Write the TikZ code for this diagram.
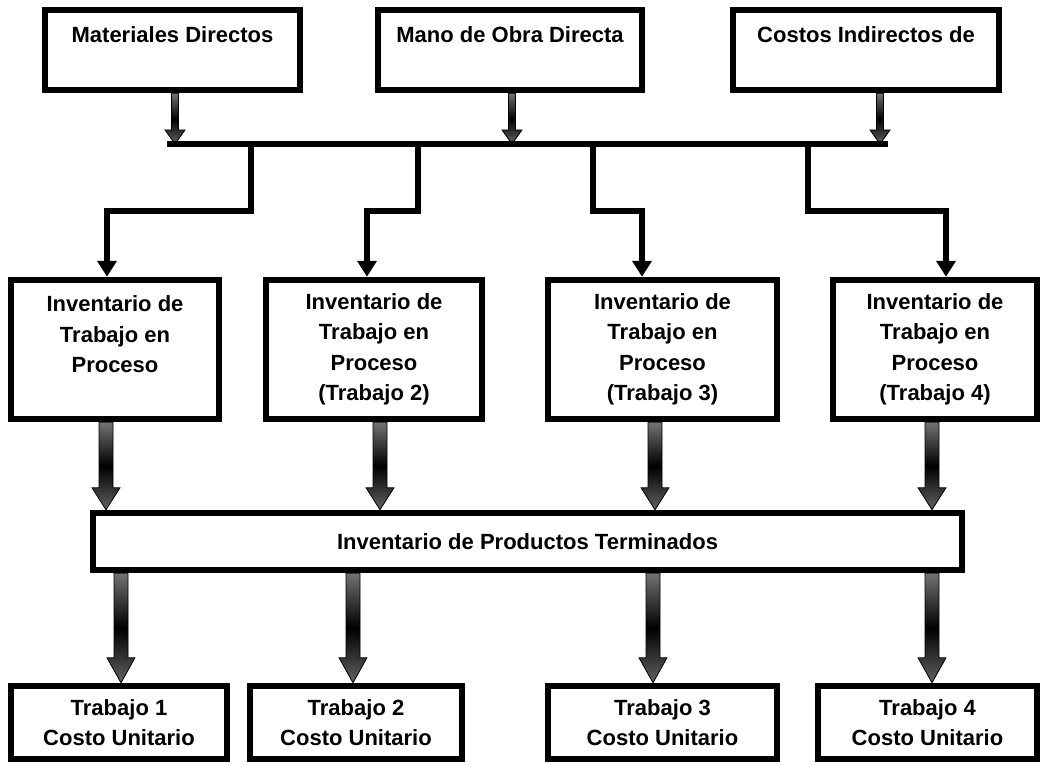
\documentclass[tikz,border=0pt]{standalone}
\usepackage{fontspec}
\setmainfont{Liberation Sans}
\usetikzlibrary{arrows.meta,calc,backgrounds}

% flecha gruesa: x, desde, hasta, medio cuerpo, media punta, largo punta
\newcommand{\flecha}[6]{%
  \path[flecha] let \p1 = (#1,0 |- #2), \p2 = (#1,0 |- #3) in
    (\x1-#4pt,\y1) -- (\x1+#4pt,\y1) -- (\x1+#4pt,\y2+#6pt)
    -- (\x1+#5pt,\y2+#6pt) -- (\x1,\y2) -- (\x1-#5pt,\y2+#6pt)
    -- (\x1-#4pt,\y2+#6pt) -- cycle;}

\begin{document}
\begin{tikzpicture}[x=1pt, y=-1pt, line join=miter]
        \tikzstyle{caja}=[draw, line width=6.5pt, fill=white, align=center, inner sep=0pt, font=\fontsize{22}{30.5}\selectfont\bfseries]
        \tikzstyle{conector}=[line width=5.5pt, -{Triangle[length=16pt,width=19pt]}]
        \tikzstyle{barra}=[line width=6pt]
        \tikzstyle{flecha}=[draw=black, line width=0.8pt, top color=black!55, bottom color=black!62, middle color=black]

        \useasboundingbox (0,0) rectangle (1047,765);

        % elementos del costo
        \node[caja, minimum width=255pt, minimum height=80pt] (mat) at (172.5,50) {Materiales Directos\\\mbox{}};
        \node[caja, minimum width=264pt, minimum height=80pt] (mano) at (510,50) {Mano de Obra Directa\\\mbox{}};
        \node[caja, minimum width=266pt, minimum height=80pt] (cif) at (866,50) {Costos Indirectos de\\\mbox{}};

        \coordinate (barL) at (167,144);
        \coordinate (barR) at (888,144);
        \coordinate (b1) at (251,144);
        \coordinate (b2) at (418,144);
        \coordinate (b3) at (593,144);
        \coordinate (b4) at (808,144);

        % inventarios de trabajo en proceso
        \node[caja, minimum width=208pt, minimum height=139pt] (inv1) at (115,349.5) {Inventario de\\Trabajo en\\Proceso\\\mbox{}};
        \node[caja, minimum width=216pt, minimum height=139pt] (inv2) at (374,349.5) {Inventario de\\Trabajo en\\Proceso\\(Trabajo 2)};
        \node[caja, minimum width=229pt, minimum height=139pt] (inv3) at (662.5,349.5) {Inventario de\\Trabajo en\\Proceso\\(Trabajo 3)};
        \node[caja, minimum width=204pt, minimum height=139pt] (inv4) at (935,349.5) {Inventario de\\Trabajo en\\Proceso\\(Trabajo 4)};

        \node[caja, minimum width=869pt, minimum height=57pt] (prod) at (527.5,541.5) {Inventario de Productos Terminados};

        % costo unitario
        \node[caja, minimum width=216pt, minimum height=73pt] (cu1) at (119,722.5) {Trabajo 1\\Costo Unitario};
        \node[caja, minimum width=212pt, minimum height=73pt] (cu2) at (356,722.5) {Trabajo 2\\Costo Unitario};
        \node[caja, minimum width=229pt, minimum height=73pt] (cu3) at (662.5,722.5) {Trabajo 3\\Costo Unitario};
        \node[caja, minimum width=219pt, minimum height=73pt] (cu4) at (927.5,722.5) {Trabajo 4\\Costo Unitario};

        \begin{scope}[on background layer]
            \flecha{175}{mat.south}{barL}{3.5}{10}{14}
            \flecha{512}{mano.south}{barL}{3.5}{10}{14}
            \flecha{880}{cif.south}{barL}{3.5}{10}{14}

            \draw[conector] (b1) -- ++(0,67) -| (inv1.north -| 107,0);
            \draw[conector] (b2) -- ++(0,67) -| (inv2.north -| 367,0);
            \draw[conector] (b3) -- ++(0,67) -| (inv3.north -| 642,0);
            \draw[conector] (b4) -- ++(0,67) -| (inv4.north -| 946,0);

            \flecha{106}{inv1.south}{prod.north}{7}{14}{22}
            \flecha{380}{inv2.south}{prod.north}{7}{14}{22}
            \flecha{655}{inv3.south}{prod.north}{7}{14}{22}
            \flecha{932}{inv4.south}{prod.north}{7}{14}{22}

            \flecha{121}{prod.south}{cu1.north}{7}{14}{25}
            \flecha{353}{prod.south}{cu2.north}{7}{14}{25}
            \flecha{653}{prod.south}{cu3.north}{7}{14}{25}
            \flecha{932}{prod.south}{cu4.north}{7}{14}{25}
        \end{scope}

        \draw[barra] (barL) -- (barR);
    \end{tikzpicture}
\end{document}
